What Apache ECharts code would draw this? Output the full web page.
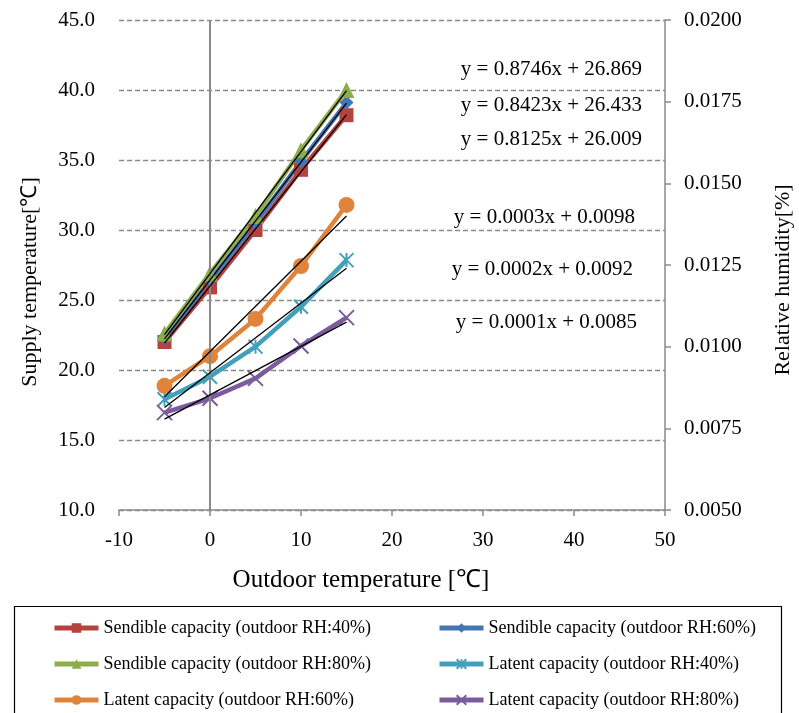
<!DOCTYPE html>
<html><head><meta charset="utf-8">
<script src="https://cdn.jsdelivr.net/npm/echarts@6/dist/echarts.min.js"></script>
<style>html,body{margin:0;padding:0;background:#fff}#c{width:799px;height:713px}</style>
</head><body><div id="c"></div>
<script>
// ---- data ----
const xValues = [-5, 0, 5, 10, 15];
const sensible40 = [22.0, 25.9, 30.0, 34.3, 38.2];
const sensible60 = [22.3, 26.4, 30.5, 34.9, 39.1];
const sensible80 = [22.6, 26.9, 31.0, 35.7, 40.0];
const latent40 = [0.00839, 0.00908, 0.01000, 0.01122, 0.01265];
const latent60 = [0.00880, 0.00971, 0.01085, 0.01247, 0.01434];
const latent80 = [0.00798, 0.00842, 0.00903, 0.01002, 0.01089];
const seriesNames = [
  'Sendible capacity (outdoor RH:40%)',
  'Sendible capacity (outdoor RH:60%)',
  'Sendible capacity (outdoor RH:80%)',
  'Latent capacity (outdoor RH:40%)',
  'Latent capacity (outdoor RH:60%)',
  'Latent capacity (outdoor RH:80%)'
];
const equationLabels = [
  'y = 0.8746x + 26.869',
  'y = 0.8423x + 26.433',
  'y = 0.8125x + 26.009',
  'y = 0.0003x + 0.0098',
  'y = 0.0002x + 0.0092',
  'y = 0.0001x + 0.0085'
];
const xAxisRange = [-10, 50, 10];
const leftAxisRange = [10, 45, 5];
const rightAxisRange = [0.005, 0.02, 0.0025];
const titles = {
  x: 'Outdoor temperature [℃]',
  left: 'Supply temperature[℃]',
  right: 'Relative humidity[%]'
};

// ---- styling ----
const FONT = '"Liberation Serif", "Times New Roman", serif';
const colors = ['#B5423F', '#4675B3', '#8DAD4C', '#43A0BB', '#E0843B', '#7A5C9D'];
const symbols = ['rect', 'diamond', 'triangle',
  'path://M0,0L10,10M10,0L0,10M5,0L5,10',
  'circle',
  'path://M0,0L10,10M10,0L0,10'];
const symbolSizes = [14, 14, 16, 14, 16, 15];
const yIndex = [0, 0, 0, 1, 1, 1];
const seriesData = [sensible40, sensible60, sensible80, latent40, latent60, latent80];

function regression(xs, ys) {
  const n = xs.length;
  const mx = xs.reduce((a, b) => a + b, 0) / n;
  const my = ys.reduce((a, b) => a + b, 0) / n;
  let sxy = 0, sxx = 0;
  for (let i = 0; i < n; i++) { sxy += (xs[i] - mx) * (ys[i] - my); sxx += (xs[i] - mx) ** 2; }
  const b = sxy / sxx;
  return { a: my - b * mx, b };
}

const series = [];
seriesData.forEach((vals, i) => {
  const path = symbols[i].startsWith('path://');
  series.push({
    name: seriesNames[i],
    type: 'line',
    yAxisIndex: yIndex[i],
    data: xValues.map((x, k) => [x, vals[k]]),
    symbol: symbols[i],
    symbolSize: symbolSizes[i],
    showAllSymbol: true,
    lineStyle: { color: colors[i], width: 4.5 },
    itemStyle: { color: colors[i], borderColor: colors[i], borderWidth: path ? 2 : 0 },
    z: 2,
    animation: false
  });
});
seriesData.forEach((vals, i) => {
  const r = regression(xValues, vals);
  const x0 = xValues[0], x1 = xValues[xValues.length - 1];
  series.push({
    name: 'trend' + i,
    type: 'line',
    yAxisIndex: yIndex[i],
    data: [[x0, r.a + r.b * x0], [x1, r.a + r.b * x1]],
    symbol: 'none',
    lineStyle: { color: '#000', width: 1.3 },
    silent: true,
    z: 5,
    animation: false
  });
});
// vertical gray line at x = 0
series.push({
  type: 'line', data: [], silent: true,
  markLine: {
    silent: true, symbol: 'none', label: { show: false },
    lineStyle: { color: '#8a8a8a', width: 2, type: 'solid' },
    data: [{ xAxis: 0 }], animation: false
  }
});

const eqY = [69, 105, 139, 217, 269, 322];
const eqX = [642, 642, 642, 635, 633, 637];

const legendBase = {
  orient: 'vertical', top: 618, height: 120, padding: 0,
  itemWidth: 44, itemHeight: 12, itemGap: 16,
  lineStyle: { width: 5 },
  textStyle: { fontFamily: FONT, fontSize: 18, color: '#000', lineHeight: 20 },
  selectedMode: false
};

const option = {
  animation: false,
  backgroundColor: '#fff',
  grid: { left: 119, right: 134, top: 20, bottom: 203 },
  xAxis: {
    type: 'value', min: xAxisRange[0], max: xAxisRange[1], interval: xAxisRange[2],
    axisLine: { lineStyle: { color: '#8a8a8a', width: 1.5 } },
    axisTick: { show: true, inside: false, length: 6, lineStyle: { color: '#8a8a8a', width: 1.5 } },
    axisLabel: { fontFamily: FONT, fontSize: 21, color: '#000', margin: 20 },
    splitLine: { show: false }
  },
  yAxis: [{
    type: 'value', min: leftAxisRange[0], max: leftAxisRange[1], interval: leftAxisRange[2],
    axisLine: { show: false }, axisTick: { show: false },
    axisLabel: { fontFamily: FONT, fontSize: 21, color: '#000', margin: 24, formatter: v => v.toFixed(1) },
    splitLine: { show: true, lineStyle: { color: '#8a8a8a', width: 1.3, type: [5, 3] } }
  }, {
    type: 'value', position: 'right',
    min: rightAxisRange[0], max: rightAxisRange[1], interval: rightAxisRange[2],
    axisLine: { show: true, lineStyle: { color: '#8a8a8a', width: 1.5 } },
    axisTick: { show: true, inside: false, length: 6, lineStyle: { color: '#8a8a8a', width: 1.5 } },
    axisLabel: { fontFamily: FONT, fontSize: 21, color: '#000', margin: 19, formatter: v => v.toFixed(4) },
    splitLine: { show: false }
  }],
  legend: [
    Object.assign({}, legendBase, { data: [seriesNames[0], seriesNames[2], seriesNames[4]], left: 52 }),
    Object.assign({}, legendBase, { data: [seriesNames[1], seriesNames[3], seriesNames[5]], left: 437 })
  ],
  graphic: [
    { type: 'rect', shape: { x: 14.5, y: 606.5, width: 767, height: 130 },
      style: { fill: 'none', stroke: '#000', lineWidth: 1.2 }, z: 0 },
    { type: 'text', x: 361, y: 580,
      style: { text: titles.x, font: '25px ' + FONT, fill: '#000', align: 'center', verticalAlign: 'middle' } },
    { type: 'text', x: 30, y: 282, rotation: Math.PI / 2,
      style: { text: titles.left, font: '22px ' + FONT, fill: '#000', align: 'center', verticalAlign: 'middle' } },
    { type: 'text', x: 783, y: 280, rotation: Math.PI / 2,
      style: { text: titles.right, font: '22px ' + FONT, fill: '#000', align: 'center', verticalAlign: 'middle' } }
  ].concat(equationLabels.map((t, i) => ({
    type: 'text', x: eqX[i], y: eqY[i], z: 10,
    style: { text: t, font: '21px ' + FONT, fill: '#000', align: 'right', verticalAlign: 'middle' }
  }))),
  series
};

const chart = echarts.init(document.getElementById('c'), null, { renderer: 'canvas' });
chart.setOption(option);
</script>
</body></html>
